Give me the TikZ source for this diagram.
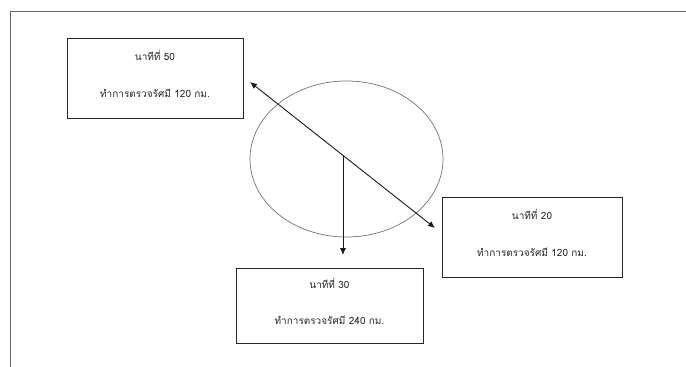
\documentclass[tikz,border=0pt]{standalone}
\usepackage{fontspec}
\newfontfamily\thaifont[Script=Thai]{Loma}
\usetikzlibrary{shapes.geometric,arrows.meta}
\begin{document}
\begin{tikzpicture}[x=1pt,y=-1pt,
  infobox/.style={draw=black!85,line width=0.8pt,rectangle,inner sep=0pt,
    text depth=8pt,
    text=black!85,align=center,font=\thaifont\fontsize{10}{36.5}\selectfont},
  conn/.style={draw=black!90,line width=0.9pt},
  tip/.style={-{Latex[length=7pt,width=6pt]}}]
\useasboundingbox (0,0) rectangle (686,367);
\fill[white] (0,0) rectangle (686,367);
% outer frame (top and left)
\coordinate (ftop) at (686,11);
\coordinate (fcorner) at (10,11);
\coordinate (fbot) at (10,367);
\draw[black!60,line width=0.8pt] (ftop) -- (fcorner) -- (fbot);
% boxes
\node[infobox,minimum width=176pt,minimum height=80pt] (b50) at (155,78)
  {นาทีที่ 50\\ทำการตรวจรัศมี 120 กม.};
\node[infobox,minimum width=180pt,minimum height=80pt] (b20) at (532,237)
  {นาทีที่ 20\\ทำการตรวจรัศมี 120 กม.};
\node[infobox,minimum width=187pt,minimum height=75pt] (b30) at (329.5,305.5)
  {นาทีที่ 30\\ทำการตรวจรัศมี 240 กม.};
% ellipse
\node[draw=black!55,line width=0.7pt,ellipse,inner sep=0pt,
  minimum width=193pt,minimum height=156pt] (circ) at (346.5,159) {};
% arrows
\coordinate (ctr) at (343,156);
\coordinate (nw) at (250,82);
\coordinate (se) at (435,228);
\coordinate (down) at (343,255);
\draw[conn,{Latex[length=7pt,width=6pt]}-{Latex[length=7pt,width=6pt]}] (nw) -- (se);
\draw[conn,tip] (ctr) -- (down);
\end{tikzpicture}
\end{document}
